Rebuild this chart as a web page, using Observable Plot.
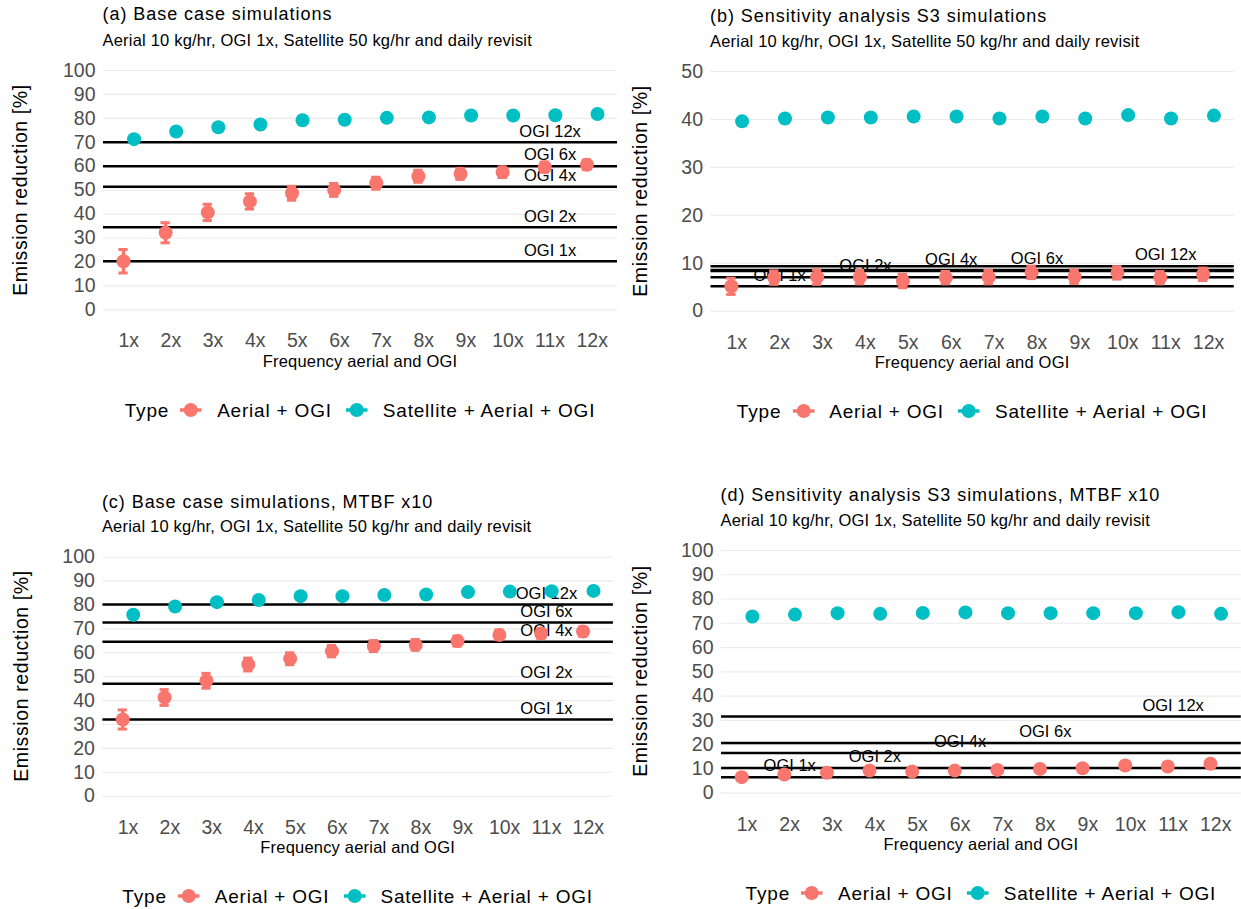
<!DOCTYPE html>
<html>
<head>
<meta charset="utf-8">
<script src="https://cdn.jsdelivr.net/npm/d3@7"></script>
<script src="https://cdn.jsdelivr.net/npm/@observablehq/plot@0.6"></script>
<style>
  html, body { margin: 0; padding: 0; background: #fff; }
  #page { position: relative; width: 1241px; height: 909px; overflow: hidden; background: #fff;
          font-family: "Liberation Sans", Arial, Helvetica, sans-serif; }
  .lbl { position: absolute; white-space: nowrap; line-height: 1; }
  .legend { position: absolute; display: flex; align-items: center; white-space: nowrap; line-height: 1;
            transform: translate(-50%, -50%); color: #000; }
  .plotbox { position: absolute; }
</style>
</head>
<body>
<div id="page"></div>
<script>
// ---- Categories and labels ----
const freq = ["1x", "2x", "3x", "4x", "5x", "6x", "7x", "8x", "9x", "10x", "11x", "12x"];
const types = ["Aerial + OGI", "Satellite + Aerial + OGI"];
const ogiLabels = ["OGI 1x", "OGI 2x", "OGI 4x", "OGI 6x", "OGI 12x"];
const subtitle = "Aerial 10 kg/hr, OGI 1x, Satellite 50 kg/hr and daily revisit";
const xTitle = "Frequency aerial and OGI";
const yTitle = "Emission reduction [%]";

// ---- (a) Base case simulations ----
const aTitle = "(a) Base case simulations";
const aAerial = [20.3, 32.2, 40.7, 45.3, 48.7, 50.1, 52.9, 55.8, 56.8, 57.5, 59.6, 60.6];
const aAerialErr = [4.9, 4.2, 3.4, 3.2, 2.9, 2.7, 2.5, 2.5, 2.3, 2.2, 2.1, 2.0];
const aSatellite = [71.3, 74.5, 76.3, 77.4, 79.2, 79.4, 80.2, 80.4, 81.2, 81.2, 81.3, 81.8];
const aOgi = [20.3, 34.5, 51.4, 60.0, 70.0];
const aOgiLabelAt = ["11x", "11x", "11x", "11x", "11x"];
const aTicks = [0, 10, 20, 30, 40, 50, 60, 70, 80, 90, 100];

// ---- (b) Sensitivity analysis S3 ----
const bTitle = "(b) Sensitivity analysis S3 simulations";
const bAerial = [5.2, 7.0, 7.1, 7.1, 6.3, 7.0, 7.1, 8.1, 7.2, 8.0, 7.0, 7.7];
const bAerialErr = [1.7, 1.4, 1.5, 1.4, 1.4, 1.3, 1.4, 1.3, 1.4, 1.3, 1.3, 1.3];
const bSatellite = [39.6, 40.2, 40.4, 40.4, 40.6, 40.6, 40.2, 40.6, 40.2, 40.9, 40.2, 40.8];
const bOgi = [5.2, 7.1, 8.4, 8.6, 9.4];
const bOgiLabelAt = ["2x", "4x", "6x", "8x", "11x"];
const bTicks = [0, 10, 20, 30, 40, 50];

// ---- (c) Base case, MTBF x10 ----
const cTitle = "(c) Base case simulations, MTBF x10";
const cAerial = [32.1, 41.3, 48.3, 55.1, 57.5, 60.7, 62.8, 63.3, 64.9, 67.5, 68.1, 68.9];
const cAerialErr = [4.0, 3.3, 3.1, 2.7, 2.5, 2.4, 2.3, 2.2, 2.1, 2.0, 2.0, 1.9];
const cSatellite = [75.9, 79.4, 81.2, 82.1, 83.7, 83.7, 84.2, 84.4, 85.4, 85.6, 85.8, 85.9];
const cOgi = [32.1, 47.1, 64.6, 72.7, 80.2];
const cOgiLabelAt = ["11x", "11x", "11x", "11x", "11x"];
const cTicks = [0, 10, 20, 30, 40, 50, 60, 70, 80, 90, 100];

// ---- (d) Sensitivity analysis S3, MTBF x10 ----
const dTitle = "(d) Sensitivity analysis S3 simulations, MTBF x10";
const dAerial = [6.6, 7.7, 8.4, 9.3, 8.9, 9.3, 9.6, 10.0, 10.3, 11.4, 11.0, 12.1];
const dAerialErr = [1.3, 1.2, 1.2, 1.2, 1.2, 1.2, 1.2, 1.2, 1.2, 1.2, 1.2, 1.2];
const dSatellite = [72.8, 73.6, 74.2, 73.9, 74.3, 74.5, 74.2, 74.2, 74.2, 74.2, 74.6, 73.9];
const dOgi = [6.6, 10.4, 16.6, 20.7, 31.6];
const dOgiLabelAt = ["2x", "4x", "6x", "8x", "11x"];
const dTicks = [0, 10, 20, 30, 40, 50, 60, 70, 80, 90, 100];

// ---- Styling ----
const RED = "#F8766D";
const CYAN = "#00BFC4";
const FONT = '"Liberation Sans", Arial, Helvetica, sans-serif';
const DODGE = 0.125;     // half of a 0.25-wide dodge, in category units
const CAP = 0.11;        // error bar cap half-width, in category units

const page = document.getElementById("page");

function addText(text, {x, baseline, size, anchor = "start", ls = 0, color = "#000", rotate = false}) {
  const el = document.createElement("div");
  el.className = "lbl";
  el.textContent = text;
  el.style.fontSize = size + "px";
  el.style.letterSpacing = ls + "px";
  el.style.color = color;
  if (rotate) {
    el.style.left = x + "px";
    el.style.top = baseline + "px";
    el.style.transform = "translate(-50%, -50%) rotate(-90deg)";
  } else {
    el.style.left = x + "px";
    el.style.top = (baseline - 0.8465 * size) + "px";
    if (anchor === "middle") el.style.transform = "translateX(-50%)";
  }
  page.appendChild(el);
}

function keySwatch(color) {
  const ns = "http://www.w3.org/2000/svg";
  const svg = document.createElementNS(ns, "svg");
  svg.setAttribute("width", 22);
  svg.setAttribute("height", 20);
  const line = document.createElementNS(ns, "line");
  line.setAttribute("x1", 0); line.setAttribute("x2", 22);
  line.setAttribute("y1", 10); line.setAttribute("y2", 10);
  line.setAttribute("stroke", color); line.setAttribute("stroke-width", 3.5);
  const c = document.createElementNS(ns, "circle");
  c.setAttribute("cx", 11); c.setAttribute("cy", 10); c.setAttribute("r", 7);
  c.setAttribute("fill", color);
  svg.appendChild(line); svg.appendChild(c);
  return svg;
}

function addLegend(cx, cy) {
  const lg = document.createElement("div");
  lg.className = "legend";
  lg.style.left = cx + "px";
  lg.style.top = cy + "px";
  lg.style.fontSize = "19px";
  lg.style.letterSpacing = "0.8px";
  const parts = [["Type", null], [types[0], RED], [types[1], CYAN]];
  parts.forEach(([label, color], i) => {
    if (color) {
      const k = keySwatch(color);
      k.style.marginRight = "15px";
      lg.appendChild(k);
    }
    const s = document.createElement("span");
    s.textContent = label;
    s.style.marginRight = i === 0 ? "11px" : (i === 1 ? "14px" : "0px");
    lg.appendChild(s);
  });
  page.appendChild(lg);
}

function drawPanel(p) {
  const aerial = p.aerial.map((v, i) => ({x: i + 1 - DODGE, y: v, lo: v - p.err[i], hi: v + p.err[i], type: types[0]}));
  const satellite = p.satellite.map((v, i) => ({x: i + 1 + DODGE, y: v, type: types[1]}));
  const ogi = p.ogi.map((v, i) => ({y: v, label: ogiLabels[i], x: freq.indexOf(p.labelAt[i]) + 1}));
  const ticks = p.ticks;
  const ymax = ticks[ticks.length - 1];
  const pad = ymax * 0.05;

  const chart = Plot.plot({
    width: p.box.width,
    height: p.box.height,
    marginLeft: p.box.ml,
    marginRight: p.box.mr,
    marginTop: p.box.mt,
    marginBottom: p.box.mb,
    style: {fontFamily: FONT, color: "#4D4D4D", background: "transparent", overflow: "visible"},
    x: {type: "linear", domain: [0.4, 12.6], label: null},
    y: {type: "linear", domain: [-pad, ymax + pad], label: null},
    marks: [
      Plot.gridY(ticks, {stroke: "#EBEBEB", strokeOpacity: 1, strokeWidth: 1.1}),
      Plot.axisY(ticks, {tickSize: 0, tickPadding: 8, fontSize: 19.5, label: null}),
      Plot.axisX(d3.range(1, freq.length + 1), {tickSize: 0, tickPadding: 11.6, fontSize: 19.5,
        tickFormat: d => freq[d - 1], label: null}),
      Plot.text(ogi, {x: "x", y: "y", text: "label", dy: -11, fontSize: 16.5, fill: "#000"}),
      Plot.ruleY(ogi, {y: "y", stroke: "#000", strokeWidth: 2.5}),
      Plot.ruleX(aerial, {x: "x", y1: "lo", y2: "hi", stroke: RED, strokeWidth: 3.5}),
      Plot.ruleY(aerial, {y: "hi", x1: d => d.x - CAP, x2: d => d.x + CAP, stroke: RED, strokeWidth: 3}),
      Plot.ruleY(aerial, {y: "lo", x1: d => d.x - CAP, x2: d => d.x + CAP, stroke: RED, strokeWidth: 3}),
      Plot.dot(aerial, {x: "x", y: "y", r: 7, fill: RED, stroke: "none"}),
      Plot.dot(satellite, {x: "x", y: "y", r: 7, fill: CYAN, stroke: "none"})
    ]
  });
  const box = document.createElement("div");
  box.className = "plotbox";
  box.style.left = p.box.left + "px";
  box.style.top = p.box.top + "px";
  box.appendChild(chart);
  page.appendChild(box);

  const frameLeft = p.box.left + p.box.ml;
  const frameRight = p.box.left + p.box.width - p.box.mr;
  const cx = (frameLeft + frameRight) / 2;
  addText(p.title, {x: frameLeft - 0.5, baseline: p.titleY, size: 18, ls: 0.95});
  addText(subtitle, {x: frameLeft - 0.5, baseline: p.subY, size: 16.5, ls: 0.2});
  addText(yTitle, {x: p.yTitleX, baseline: p.yTitleY, size: 19.5, ls: 0.6, rotate: true});
  addText(xTitle, {x: cx, baseline: p.xTitleY, size: 16.5, ls: 0.2, anchor: "middle"});
  addLegend(cx, p.legendY);
}

drawPanel({
  title: aTitle, aerial: aAerial, err: aAerialErr, satellite: aSatellite, ogi: aOgi, labelAt: aOgiLabelAt, ticks: aTicks,
  box: {left: 0, top: 0, width: 620, height: 360, ml: 103, mr: 3, mt: 58.0, mb: 38.7},
  titleY: 20.7, subY: 46, yTitleX: 21, yTitleY: 189.7, xTitleY: 366.7, legendY: 410
});
drawPanel({
  title: bTitle, aerial: bAerial, err: bAerialErr, satellite: bSatellite, ogi: bOgi, labelAt: bOgiLabelAt, ticks: bTicks,
  box: {left: 620, top: 0, width: 621, height: 360, ml: 90.5, mr: 7.2, mt: 59.0, mb: 37.3},
  titleY: 22, subY: 47.3, yTitleX: 641, yTitleY: 190.9, xTitleY: 368.1, legendY: 411.4
});
drawPanel({
  title: cTitle, aerial: cAerial, err: cAerialErr, satellite: cSatellite, ogi: cOgi, labelAt: cOgiLabelAt, ticks: cTicks,
  box: {left: 0, top: 480, width: 620, height: 360, ml: 102.4, mr: 7.1, mt: 64.75, mb: 32.35},
  titleY: 508.3, subY: 532.3, yTitleX: 22, yTitleY: 676.2, xTitleY: 853.1, legendY: 896.4
});
drawPanel({
  title: dTitle, aerial: dAerial, err: dAerialErr, satellite: dSatellite, ogi: dOgi, labelAt: dOgiLabelAt, ticks: dTicks,
  box: {left: 620, top: 480, width: 621, height: 360, ml: 101, mr: 0.2, mt: 57.9, mb: 35.2},
  titleY: 501, subY: 525.8, yTitleX: 641, yTitleY: 671.4, xTitleY: 850.1, legendY: 893.4
});
</script>
</body>
</html>
